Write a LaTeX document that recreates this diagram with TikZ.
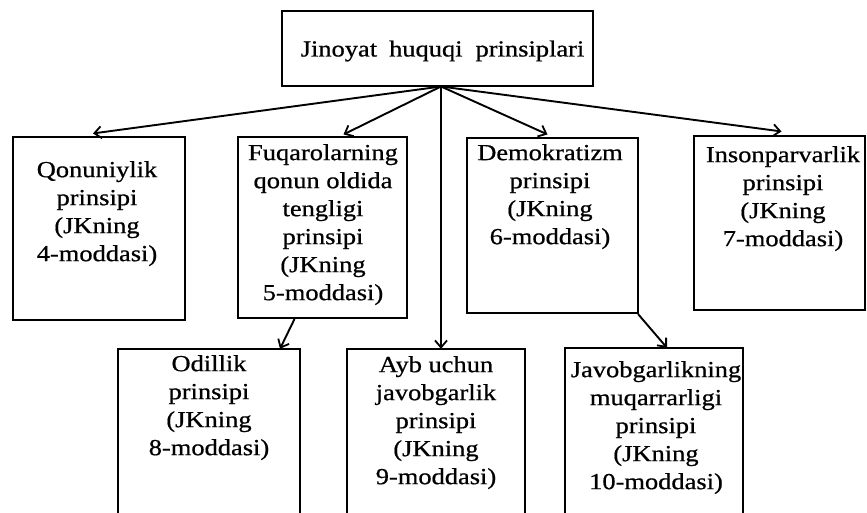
\documentclass[tikz,border=0pt]{standalone}
\usepackage{fontspec}
\setmainfont[FakeStretch=1.15,FakeBold=0.7]{Liberation Serif}
\usetikzlibrary{arrows.meta}
\begin{document}
\begin{tikzpicture}[x=1pt,y=-1pt,
  box/.style={draw, line width=2.1pt, inner sep=0pt},
  obox/.style={inner sep=0pt},
  txt/.style={align=center, inner sep=0pt, anchor=north, font=\fontsize{23}{28}\selectfont},
  conn/.style={line width=1.9pt, -{Straight Barb[length=7pt,width=12pt,line width=1.8pt]}}]
\useasboundingbox (0,0) rectangle (867,513);
% top box
\node[box, minimum width=311pt, minimum height=75pt] (top) at (437.5,48.5) {};
\node[txt, anchor=center] (topt) at (442.5,51) {Jinoyat\hspace{12pt}huquqi\hspace{13pt}prinsiplari};
\coordinate (apex) at (441,86.5);
% row 1
\node[box, minimum width=172pt, minimum height=183pt] (q) at (99,228.5) {};
\node[txt] (qt) at (97,161) {Qonuniylik\\prinsipi\\(JKning\\4-moddasi)};
\node[box, minimum width=169pt, minimum height=181pt] (f) at (322.5,227.5) {};
\node[txt] (ft) at (323,144) {Fuqarolarning\\qonun oldida\\tengligi\\prinsipi\\(JKning\\5-moddasi)};
\node[box, minimum width=171pt, minimum height=175pt] (d) at (552.5,225.5) {};
\node[txt] (dt) at (550,144) {Demokratizm\\prinsipi\\(JKning\\6-moddasi)};
\node[box, minimum width=171pt, minimum height=174pt] (i) at (779.5,223) {};
\node[txt] (it) at (783,146) {Insonparvarlik\\prinsipi\\(JKning\\7-moddasi)};
% row 2 (open at bottom)
\node[obox, minimum width=182pt, minimum height=164pt] (o) at (209,431) {};
\node[obox, minimum width=178pt, minimum height=164pt] (a) at (436,431) {};
\node[obox, minimum width=178pt, minimum height=165pt] (j) at (654,430.5) {};
\draw[line width=2.1pt] (o.south west) -- (o.north west) -- (o.north east) -- (o.south east);
\draw[line width=2.1pt] (a.south west) -- (a.north west) -- (a.north east) -- (a.south east);
\draw[line width=2.1pt] (j.south west) -- (j.north west) -- (j.north east) -- (j.south east);
\node[txt] (ot) at (209,355) {Odillik\\prinsipi\\(JKning\\8-moddasi)};
\node[txt] (at) at (436,356) {Ayb uchun\\javobgarlik\\prinsipi\\(JKning\\9-moddasi)};
\node[txt] (jt) at (656,361) {Javobgarlikning\\muqarrarligi\\prinsipi\\(JKning\\10-moddasi)};
% connectors
\draw[conn] (apex) -- ([xshift=-6pt,yshift=2.5pt]q.north);
\draw[conn] (apex) -- ([xshift=21pt,yshift=1.5pt]f.north);
\draw[conn] (apex) -- ([xshift=-5pt,yshift=2.5pt]d.north);
\draw[conn] (apex) -- ([xshift=2pt,yshift=3.5pt]i.north);
\draw[conn] (apex) -- (apex |- a.north);
\draw[conn] ([xshift=-28pt]f.south) -- ([xshift=71pt]o.north);
\draw[conn] ([xshift=-1pt]d.south east) -- ([xshift=13pt]j.north);
\end{tikzpicture}
\end{document}
